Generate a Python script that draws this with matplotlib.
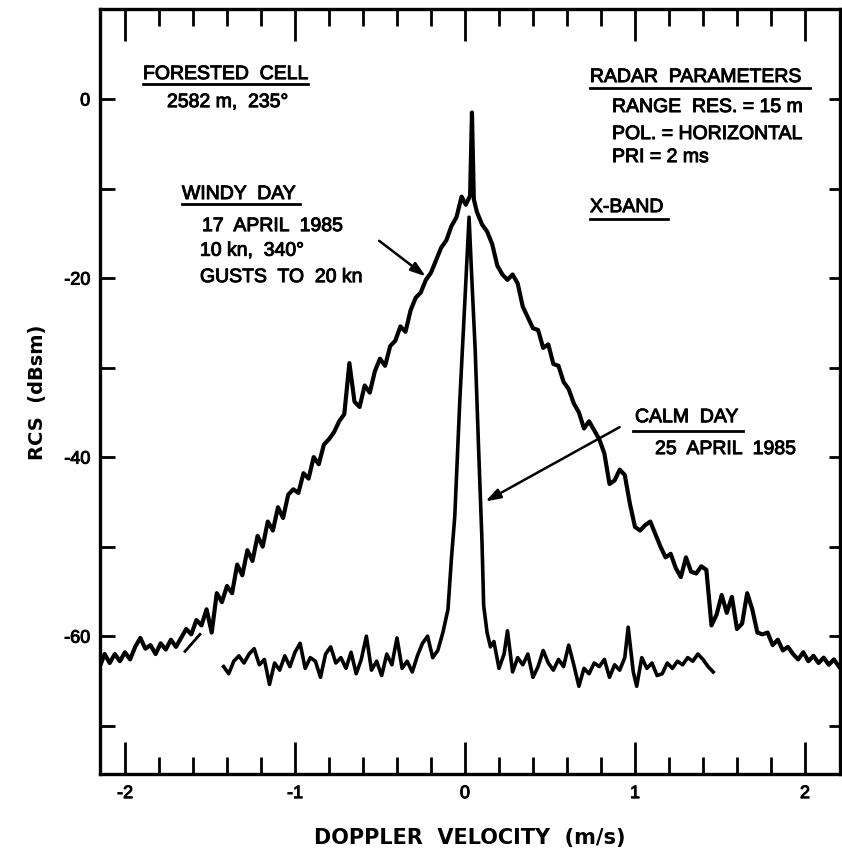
import matplotlib
matplotlib.use('Agg')
import matplotlib.pyplot as plt
import matplotlib.patheffects as pe

# ---------------- data ----------------
windy_x = [-2.15, -2.12, -2.09, -2.06, -2.03, -2.00, -1.97, -1.94, -1.91, -1.88,
           -1.85, -1.82, -1.79, -1.76, -1.73, -1.70, -1.67, -1.64, -1.61, -1.58,
           -1.55, -1.52, -1.49, -1.46, -1.43, -1.40, -1.37, -1.34, -1.31, -1.28,
           -1.25, -1.22, -1.19, -1.16, -1.13, -1.10, -1.07, -1.04, -1.01, -0.98,
           -0.95, -0.92, -0.89, -0.86, -0.83, -0.80, -0.77, -0.74, -0.71, -0.68,
           -0.65, -0.62, -0.59, -0.56, -0.53, -0.50, -0.47, -0.44, -0.41, -0.38,
           -0.35, -0.32, -0.29, -0.26, -0.23, -0.20, -0.17, -0.14, -0.11, -0.08,
           -0.05, -0.02, 0.005, 0.03, 0.041, 0.052, 0.07, 0.10, 0.13, 0.16,
           0.19, 0.22, 0.25, 0.28, 0.31, 0.34, 0.37, 0.40, 0.43, 0.46,
           0.49, 0.52, 0.55, 0.58, 0.61, 0.64, 0.67, 0.70, 0.73, 0.76,
           0.79, 0.82, 0.85, 0.88, 0.91, 0.94, 0.97, 1.00, 1.03, 1.06,
           1.09, 1.12, 1.15, 1.18, 1.21, 1.24, 1.27, 1.30, 1.33, 1.36,
           1.39, 1.42, 1.45, 1.48, 1.51, 1.54, 1.57, 1.60, 1.63, 1.66,
           1.69, 1.72, 1.75, 1.78, 1.81, 1.84, 1.87, 1.90, 1.93, 1.96,
           1.99, 2.02, 2.05, 2.08, 2.11, 2.14, 2.17, 2.20]
windy_y = [-63.5, -62.0, -63.0, -62.0, -62.8, -61.8, -62.6, -61.2, -60.2, -61.4,
           -61.0, -62.0, -60.8, -61.5, -60.4, -61.2, -60.2, -59.2, -59.8, -58.2,
           -58.8, -57.0, -59.6, -55.2, -56.2, -54.4, -55.2, -52.0, -53.2, -50.4,
           -51.6, -48.8, -50.0, -47.2, -48.2, -45.6, -46.8, -44.2, -43.6, -44.0,
           -41.8, -42.4, -40.0, -40.8, -38.6, -38.0, -37.2, -36.0, -35.2, -29.5,
           -33.8, -34.4, -32.0, -32.8, -30.4, -29.0, -29.8, -27.6, -27.0, -25.4,
           -26.0, -23.6, -22.2, -21.6, -20.2, -19.4, -18.0, -16.6, -15.8, -14.2,
           -13.2, -10.9, -11.8, -10.8, -1.5, -11.2, -12.6, -14.0, -14.8, -16.2,
           -18.6, -19.6, -20.2, -19.6, -20.6, -23.2, -24.4, -25.6, -25.8, -27.8,
           -27.4, -29.6, -29.8, -31.6, -32.4, -34.0, -35.0, -36.8, -36.0, -37.0,
           -38.0, -39.6, -43.0, -42.6, -41.4, -42.0, -45.2, -47.8, -48.2, -47.6,
           -47.2, -48.6, -50.0, -51.2, -50.8, -52.4, -53.4, -51.2, -52.8, -53.0,
           -52.2, -52.6, -58.8, -57.6, -55.4, -57.4, -55.6, -59.2, -58.6, -55.2,
           -57.0, -59.6, -59.8, -59.6, -61.0, -60.4, -61.6, -61.2, -62.0, -62.6,
           -61.8, -62.8, -62.2, -63.0, -62.4, -63.2, -62.6, -63.4]

# short stray second-trace stroke below the windy curve
windy_stroke_x = [-1.647, -1.559]
windy_stroke_y = [-61.7, -59.8]

calm_x = [-1.42, -1.39, -1.36, -1.33, -1.30, -1.27, -1.24, -1.21, -1.18, -1.15,
          -1.12, -1.09, -1.06, -1.03, -1.00, -0.97, -0.94, -0.91, -0.88, -0.85,
          -0.82, -0.79, -0.76, -0.73, -0.70, -0.67, -0.64, -0.61, -0.58, -0.55,
          -0.52, -0.49, -0.46, -0.43, -0.40, -0.37, -0.34, -0.31, -0.28, -0.25,
          -0.22, -0.19, -0.16, -0.13, -0.10, -0.08, -0.06, -0.03, 0.00, 0.024,
          0.04, 0.06, 0.08, 0.10, 0.11, 0.13, 0.15, 0.17, 0.20, 0.23,
          0.25, 0.28, 0.31, 0.34, 0.37, 0.40, 0.43, 0.46, 0.49, 0.52,
          0.55, 0.58, 0.61, 0.64, 0.67, 0.70, 0.73, 0.76, 0.79, 0.82,
          0.85, 0.88, 0.91, 0.94, 0.96, 0.99, 1.01, 1.04, 1.07, 1.10,
          1.13, 1.16, 1.19, 1.22, 1.25, 1.28, 1.31, 1.34, 1.37, 1.40,
          1.43, 1.46]
calm_y = [-63.4, -64.2, -62.8, -62.2, -63.0, -62.0, -61.4, -63.2, -62.6, -65.4,
          -63.0, -63.8, -62.2, -63.4, -61.8, -60.8, -63.6, -62.4, -62.8, -64.6,
          -62.0, -61.2, -63.0, -62.4, -63.6, -61.8, -64.2, -62.6, -60.0, -63.8,
          -62.8, -64.4, -62.0, -63.2, -60.2, -63.6, -62.8, -64.0, -62.2, -60.8,
          -60.0, -62.4, -61.6, -59.6, -57.0, -51.4, -46.6, -33.5, -22.3, -13.2,
          -20.0, -28.0, -39.0, -49.4, -56.6, -59.6, -61.2, -60.6, -63.6, -62.0,
          -59.4, -64.0, -62.4, -63.2, -62.0, -64.6, -63.4, -61.6, -63.0, -63.8,
          -62.6, -63.4, -61.0, -63.2, -65.6, -63.6, -64.2, -63.0, -63.4, -62.6,
          -64.6, -63.2, -63.8, -62.4, -59.0, -64.0, -65.6, -62.4, -63.6, -63.0,
          -64.4, -64.2, -63.0, -63.6, -62.8, -63.2, -62.4, -62.8, -62.0, -62.6,
          -63.4, -64.0]

x_major = [-2, -1, 0, 1, 2]
x_major_labels = ['-2', '-1', '0', '1', '2']
x_minor = [-1.8, -1.6, -1.4, -1.2, -0.8, -0.6, -0.4, -0.2,
           0.2, 0.4, 0.6, 0.8, 1.2, 1.4, 1.6, 1.8]
y_ticks = [-70, -60, -50, -40, -30, -20, -10, 0]
y_tick_labels = ['', '-60', '', '-40', '', '-20', '', '0']

# ---------------- figure ----------------
plt.rcParams['font.family'] = ['Liberation Sans', 'DejaVu Sans']
thick = [pe.withStroke(linewidth=0.7, foreground='black')]

fig = plt.figure(figsize=(8.42, 8.53), dpi=100)
ax = fig.add_axes([100 / 842, 1 - 775 / 853, 740 / 842, 765 / 853])

ax.plot(windy_x, windy_y, color='black', lw=3.0, solid_joinstyle='round')
ax.plot(windy_stroke_x, windy_stroke_y, color='black', lw=2.0)
ax.plot(calm_x, calm_y, color='black', lw=2.6, solid_joinstyle='round')

ax.set_xlim(-2.147, 2.206)
ax.set_ylim(-75.4, 10.06)

for s in ax.spines.values():
    s.set_linewidth(2.4)

ax.set_xticks(x_major)
ax.set_xticklabels(x_major_labels)
ax.set_xticks(x_minor, minor=True)
ax.set_yticks(y_ticks)
ax.set_yticklabels(y_tick_labels)

ax.tick_params(axis='x', which='major', direction='in', length=23, width=2,
               top=True, labelsize=13, pad=8)
ax.tick_params(axis='x', which='minor', direction='in', length=12, width=2,
               top=True)
ax.tick_params(axis='y', which='major', direction='in', length=11, width=2,
               right=True, labelsize=13, pad=7)
for t in ax.yaxis.get_major_ticks():
    t.tick2line.set_markersize(8)
for lab in ax.get_xticklabels() + ax.get_yticklabels():
    lab.set_path_effects(thick)

ax.set_xlabel('DOPPLER  VELOCITY  (m/s)', fontsize=15, fontweight='bold',
              family='DejaVu Sans', labelpad=18)
ax.set_ylabel('RCS  (dBsm)', fontsize=14, fontweight='bold',
              family='DejaVu Sans', labelpad=12)

def txt(x, y, s, size=14):
    ax.text(x, y, s, fontsize=size, ha='left', va='baseline',
            path_effects=thick)

def uline(x0, x1, y):
    ax.plot([x0, x1], [y, y], color='black', lw=2)

txt(-1.894, 2.23, 'FORESTED  CELL')
uline(-1.894, -0.924, 1.68)
txt(-1.753, -0.9, '2582 m,  235°')

txt(-1.665, -11.17, 'WINDY  DAY')
uline(-1.665, -0.97, -11.73)
txt(-1.547, -14.75, '17  APRIL  1985')
txt(-1.559, -17.5, '10 kn,  340°')
txt(-1.559, -20.45, 'GUSTS  TO  20 kn')
ax.annotate('', xy=(-0.218, -20.0), xytext=(-0.518, -15.64),
            arrowprops=dict(arrowstyle='-|>,head_length=0.9,head_width=0.3',
                            color='black', lw=1.8))

txt(0.735, 1.9, 'RADAR  PARAMETERS')
uline(0.735, 2.03, 1.23)
txt(0.865, -1.45, 'RANGE  RES. = 15 m')
txt(0.865, -4.47, 'POL. = HORIZONTAL')
txt(0.865, -7.04, 'PRI = 2 ms')
txt(0.735, -12.63, 'X-BAND')
uline(0.735, 1.194, -13.4)

txt(1.0, -36.1, 'CALM  DAY')
uline(0.988, 1.635, -37.1)
txt(1.118, -39.66, '25  APRIL  1985')
ax.annotate('', xy=(0.106, -45.1), xytext=(0.924, -36.5),
            arrowprops=dict(arrowstyle='-|>,head_length=0.9,head_width=0.3',
                            color='black', lw=1.8))

fig.savefig('out.png', dpi=100)
